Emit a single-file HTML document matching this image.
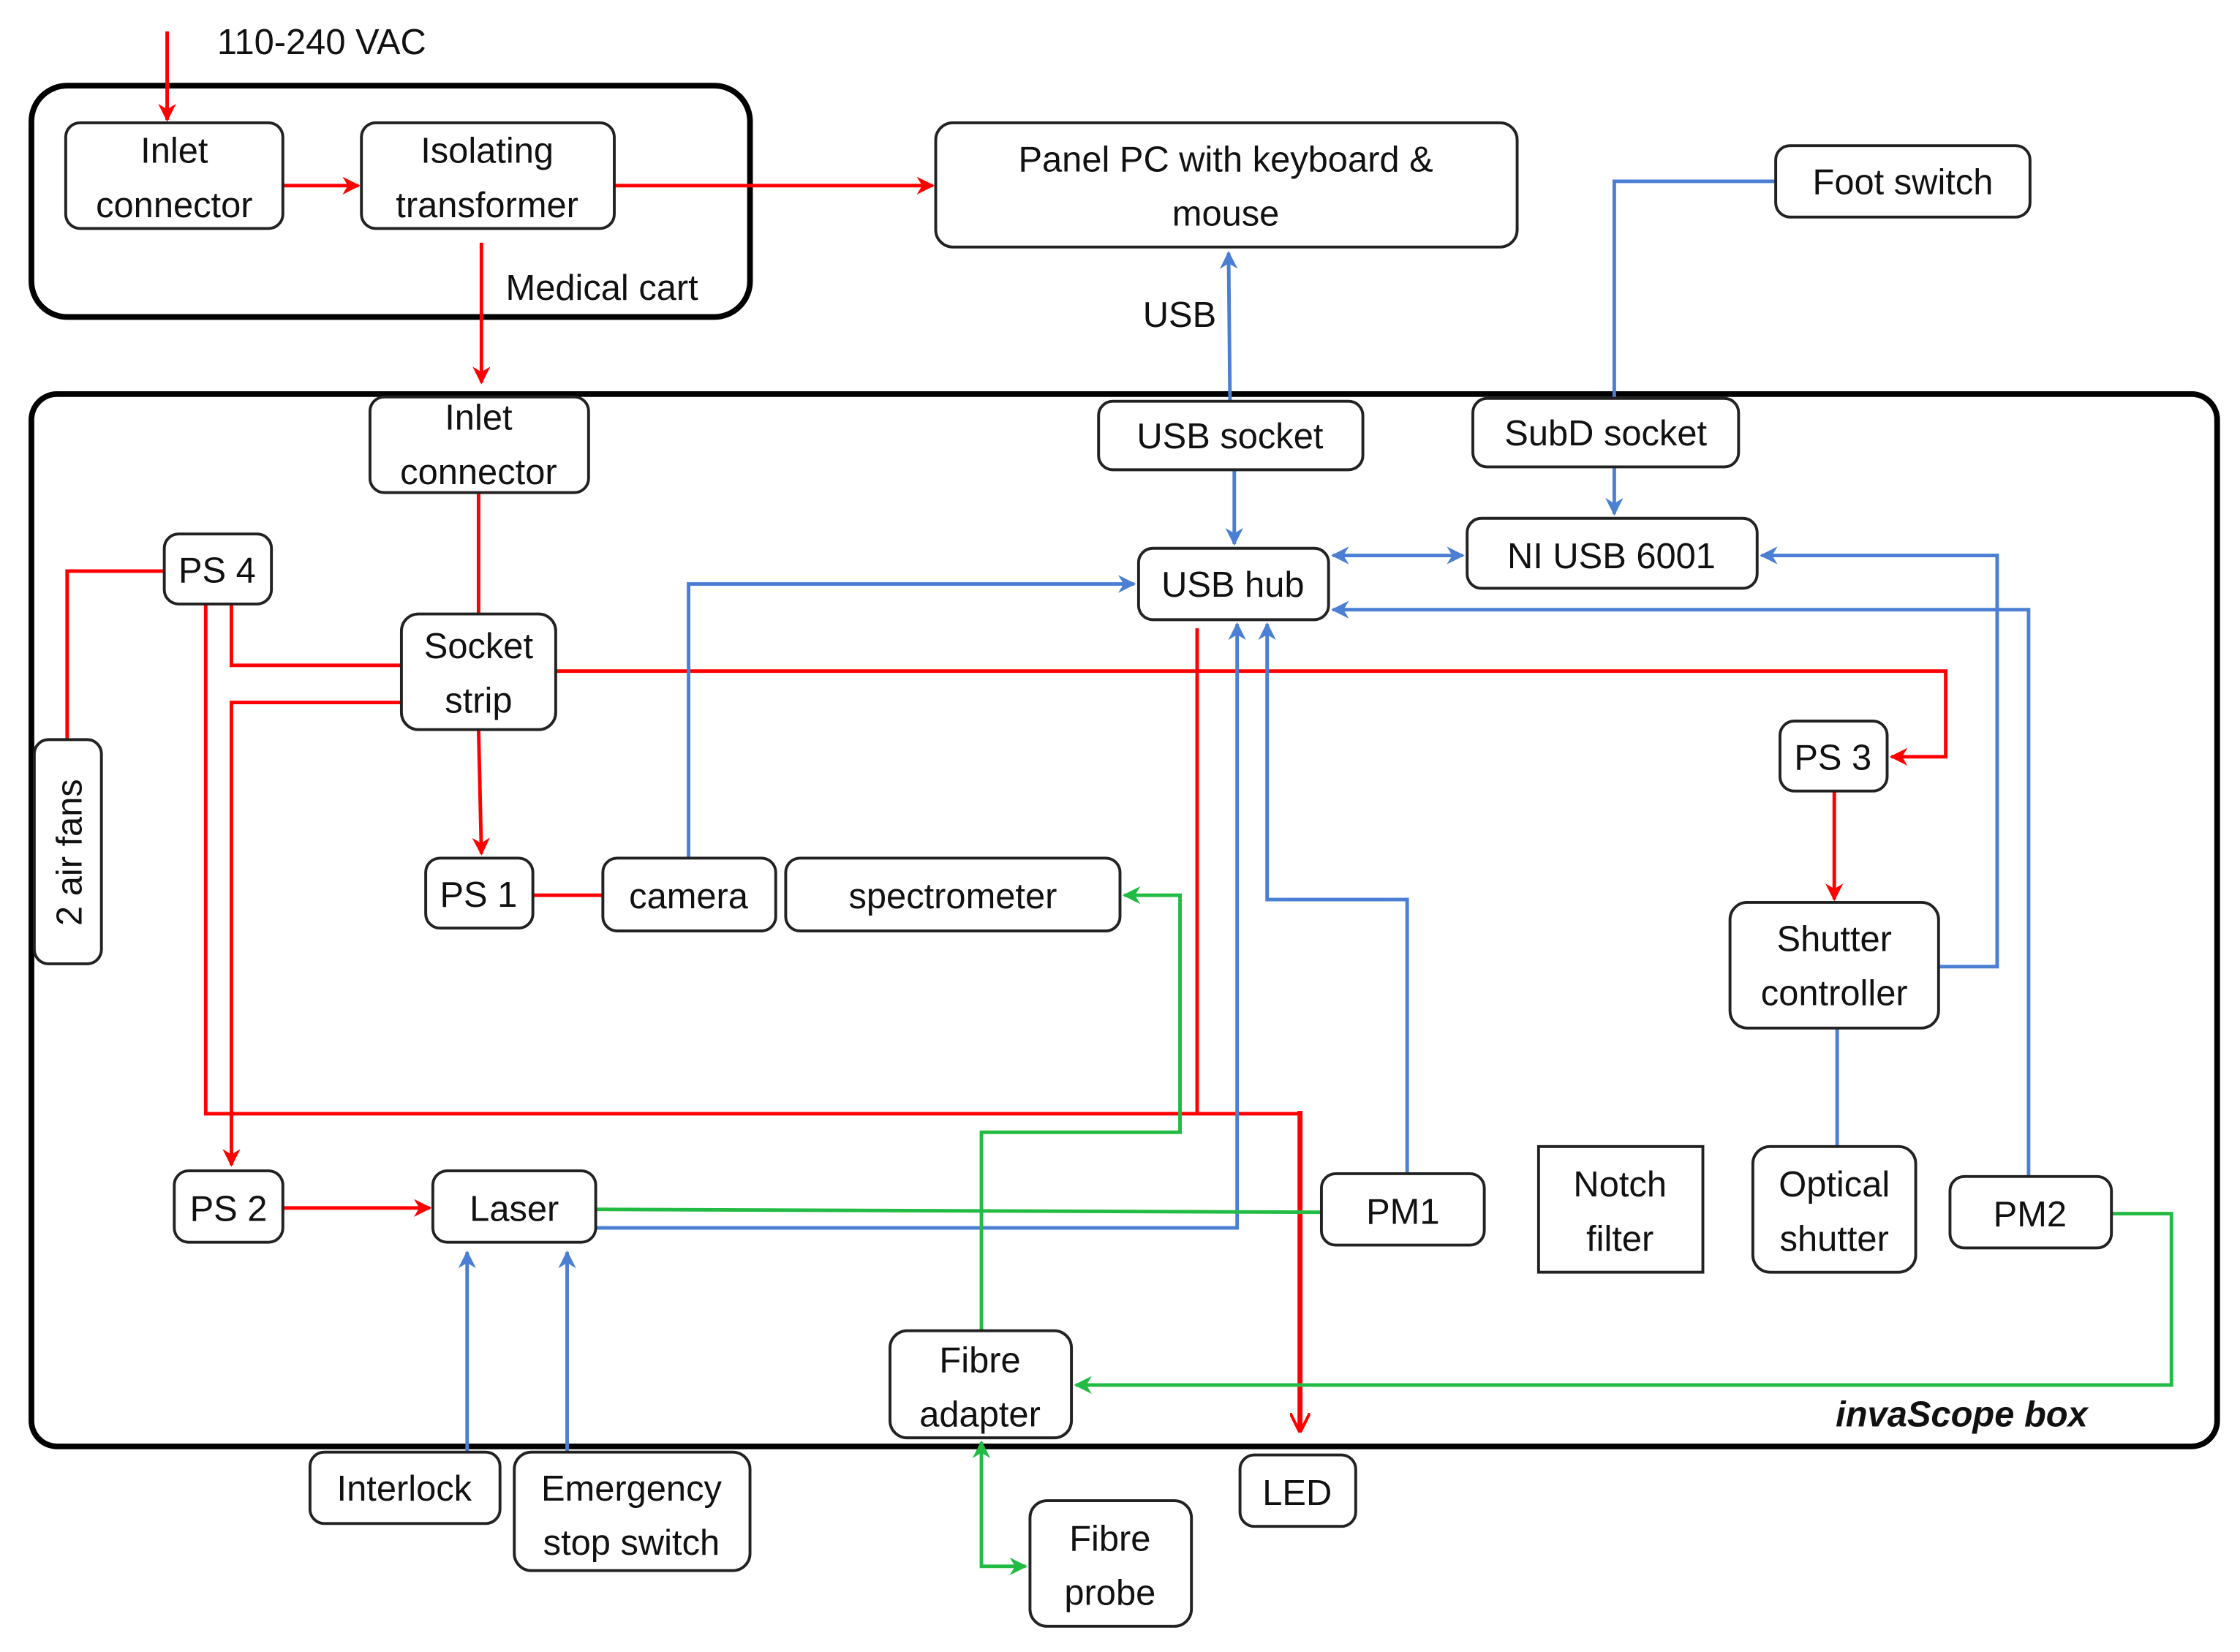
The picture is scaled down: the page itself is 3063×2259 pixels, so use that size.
<!DOCTYPE html>
<html><head><meta charset="utf-8"><style>
html,body{margin:0;padding:0;background:#fff;}
svg{display:block;}
text{font-family:"Liberation Sans",sans-serif;font-size:25px;fill:#111;}
</style></head><body>
<svg width="3063" height="2259" viewBox="0 0 1568 1157" preserveAspectRatio="none" xmlns="http://www.w3.org/2000/svg">
<defs>
<marker id="ar" viewBox="0 0 10 10" refX="9" refY="5" markerWidth="5" markerHeight="5" orient="auto-start-reverse"><path d="M0,0 L10,5 L0,10 L3,5 z" fill="#f00"/></marker>
<marker id="ab" viewBox="0 0 10 10" refX="9" refY="5" markerWidth="5" markerHeight="5" orient="auto-start-reverse"><path d="M0,0 L10,5 L0,10 L3,5 z" fill="#4a7fd4"/></marker>
<marker id="ag" viewBox="0 0 10 10" refX="9" refY="5" markerWidth="5" markerHeight="5" orient="auto-start-reverse"><path d="M0,0 L10,5 L0,10 L3,5 z" fill="#22bb44"/></marker>
<marker id="arb" viewBox="0 0 10 10" refX="9" refY="5" markerWidth="4" markerHeight="4" orient="auto"><path d="M0,0 L10,5 L0,10" fill="none" stroke="#f00" stroke-width="1.5"/></marker>
</defs>
<!-- outer containers -->
<rect x="22" y="60" width="503" height="162" rx="25" fill="none" stroke="#000" stroke-width="4"/>
<rect x="22" y="276" width="1530" height="737" rx="18" fill="none" stroke="#000" stroke-width="4"/>

<g fill="none" stroke-width="2.5">
<!-- red -->
<g stroke="#f00">
<path d="M117,22 V84" marker-end="url(#ar)"/>
<path d="M198,130 H251" marker-end="url(#ar)"/>
<path d="M430,130 H653" marker-end="url(#ar)"/>
<path d="M337,170 V268" marker-end="url(#ar)"/>
<path d="M335,345 V430"/>
<path d="M115,400 H47 V518"/>
<path d="M162,423 V466 H281"/>
<path d="M281,492 H162 V816" marker-end="url(#ar)"/>
<path d="M144,423 V780 H910"/>
<path d="M838,440 V780"/>
<path d="M389,470 H1362 V530 H1324" marker-end="url(#ar)"/>
<path d="M335,511 L337,598" marker-end="url(#ar)"/>
<path d="M373,627 H422"/>
<path d="M198,846 H301" marker-end="url(#ar)"/>
<path d="M1284,554 V630" marker-end="url(#ar)"/>
<path d="M910,778 V1002" stroke-width="3.5" marker-end="url(#arb)"/>
</g>
<!-- blue -->
<g stroke="#4a7fd4">
<path d="M861,281 L860,177" marker-end="url(#ab)"/>
<path d="M1130,279 V127 H1243"/>
<path d="M864,329 V381" marker-end="url(#ab)"/>
<path d="M1130,327 V360" marker-end="url(#ab)"/>
<path d="M933,389 H1024" marker-start="url(#ab)" marker-end="url(#ab)"/>
<path d="M482,601 V409 H794" marker-end="url(#ab)"/>
<path d="M1357,677 H1398 V389 H1233" marker-end="url(#ab)"/>
<path d="M1420,824 V427 H933" marker-end="url(#ab)"/>
<path d="M985,822 V630 H887 V437" marker-end="url(#ab)"/>
<path d="M417,860 H866 V437" marker-end="url(#ab)"/>
<path d="M327,1017 V877" marker-end="url(#ab)"/>
<path d="M397,1017 V877" marker-end="url(#ab)"/>
<path d="M1286,720 V803"/>
</g>
<!-- green -->
<g stroke="#22bb44">
<path d="M417,847 L925,849"/>
<path d="M687,932 V793 H826 V627 H787" marker-end="url(#ag)"/>
<path d="M1478,850 H1520 V970 H753" marker-end="url(#ag)"/>
<path d="M687,1010 V1097 H718" marker-start="url(#ag)" marker-end="url(#ag)"/>
</g>
</g>

<!-- boxes -->
<g fill="#fff" stroke="#222" stroke-width="2">
<rect x="46" y="86" width="152" height="74" rx="10"/>
<rect x="253" y="86" width="177" height="74" rx="10"/>
<rect x="655" y="86" width="407" height="87" rx="12"/>
<rect x="1243" y="102" width="178" height="50" rx="10"/>
<rect x="259" y="278" width="153" height="67" rx="10"/>
<rect x="769" y="281" width="185" height="48" rx="10"/>
<rect x="1031" y="279" width="186" height="48" rx="10"/>
<rect x="1027" y="363" width="203" height="49" rx="10"/>
<rect x="797" y="384" width="133" height="50" rx="10"/>
<rect x="115" y="374" width="75" height="49" rx="10"/>
<rect x="281" y="430" width="108" height="81" rx="12"/>
<rect x="24" y="518" width="47" height="157" rx="10"/>
<rect x="1246" y="505" width="75" height="49" rx="10"/>
<rect x="298" y="601" width="75" height="49" rx="10"/>
<rect x="422" y="601" width="121" height="51" rx="10"/>
<rect x="550" y="601" width="234" height="51" rx="10"/>
<rect x="1211" y="632" width="146" height="88" rx="12"/>
<rect x="122" y="820" width="76" height="50" rx="10"/>
<rect x="303" y="820" width="114" height="50" rx="10"/>
<rect x="925" y="822" width="114" height="50" rx="10"/>
<rect x="1077" y="803" width="115" height="88"/>
<rect x="1227" y="803" width="114" height="88" rx="12"/>
<rect x="1365" y="824" width="113" height="50" rx="10"/>
<rect x="623" y="932" width="127" height="75" rx="12"/>
<rect x="217" y="1017" width="133" height="50" rx="10"/>
<rect x="360" y="1017" width="165" height="83" rx="12"/>
<rect x="868" y="1019" width="81" height="50" rx="10"/>
<rect x="721" y="1051" width="113" height="88" rx="12"/>
</g>

<g text-anchor="middle">
<text x="122" y="114">Inlet</text><text x="122" y="152">connector</text>
<text x="341" y="114">Isolating</text><text x="341" y="152">transformer</text>
<text x="858" y="120">Panel PC with keyboard &amp;</text><text x="858" y="158">mouse</text>
<text x="1332" y="136">Foot switch</text>
<text x="335" y="301">Inlet</text><text x="335" y="339">connector</text>
<text x="861" y="314">USB  socket</text>
<text x="1124" y="312">SubD  socket</text>
<text x="1128" y="398">NI USB 6001</text>
<text x="863" y="418">USB hub</text>
<text x="152" y="408">PS 4</text>
<text x="335" y="461">Socket</text><text x="335" y="499">strip</text>
<text x="1283" y="539">PS 3</text>
<text x="335" y="635">PS 1</text>
<text x="482" y="636">camera</text>
<text x="667" y="636">spectrometer</text>
<text x="1284" y="666">Shutter</text><text x="1284" y="704">controller</text>
<text x="160" y="855">PS 2</text>
<text x="360" y="855">Laser</text>
<text x="982" y="857">PM1</text>
<text x="1134" y="838">Notch</text><text x="1134" y="876">filter</text>
<text x="1284" y="838">Optical</text><text x="1284" y="876">shutter</text>
<text x="1421" y="859">PM2</text>
<text x="686" y="961">Fibre</text><text x="686" y="999">adapter</text>
<text x="283" y="1051">Interlock</text>
<text x="442" y="1051">Emergency</text><text x="442" y="1089">stop switch</text>
<text x="908" y="1054">LED</text>
<text x="777" y="1086">Fibre</text><text x="777" y="1124">probe</text>
<text x="0" y="0" transform="translate(57,597) rotate(-90)">2 air fans</text>
</g>
<text x="152" y="38">110-240 VAC</text>
<text x="354" y="210">Medical cart</text>
<text x="800" y="229">USB</text>
<text x="1285" y="999" style="font-weight:bold;font-style:italic">invaScope box</text>
</svg>
</body></html>
